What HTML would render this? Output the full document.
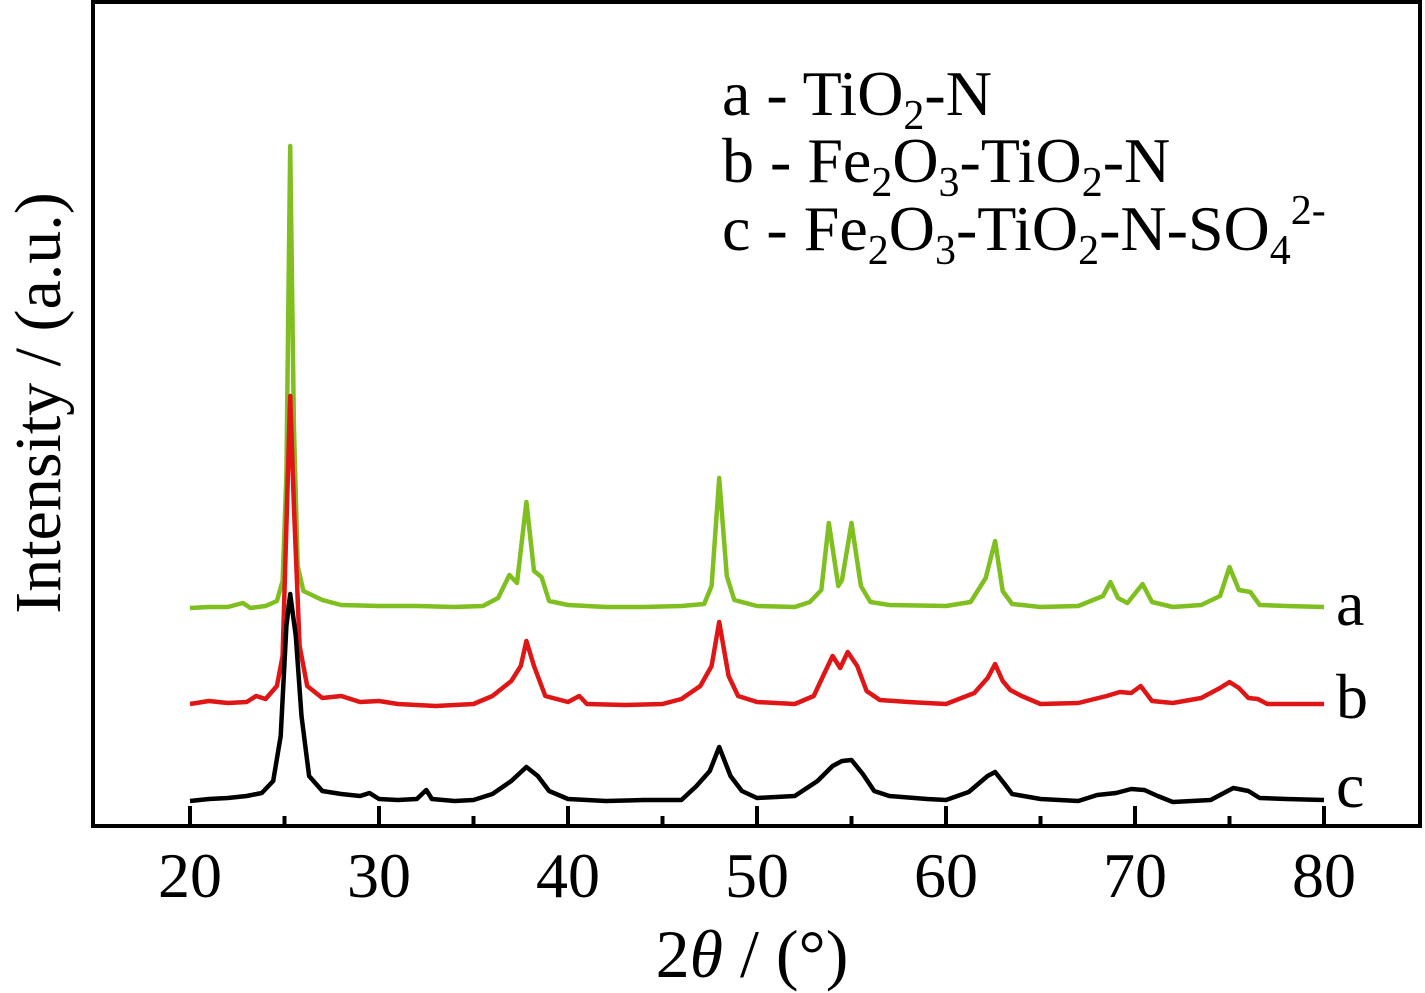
<!DOCTYPE html>
<html><head><meta charset="utf-8"><style>
html,body{margin:0;padding:0;background:#fff;}
svg{display:block;font-family:"Liberation Serif",serif;}
</style></head><body>
<svg id="chart" width="1425" height="993" viewBox="0 0 1425 993">
<rect x="93" y="2" width="1327" height="824" fill="none" stroke="#000" stroke-width="4"/>
<g id="ticks"></g>
<g id="series"></g>
<text x="752" y="977" font-size="68" text-anchor="middle">2<tspan font-style="italic">θ</tspan> / (°)</text>
<text transform="translate(60,403) rotate(-90)" font-size="66" text-anchor="middle">Intensity / (a.u.)</text>
<g font-size="64">
<text x="722" y="115">a - TiO<tspan font-size="42" dy="14">2</tspan><tspan dy="-14">-N</tspan></text>
<text x="722" y="182">b - Fe<tspan font-size="42" dy="14">2</tspan><tspan dy="-14">O</tspan><tspan font-size="42" dy="14">3</tspan><tspan dy="-14">-TiO</tspan><tspan font-size="42" dy="14">2</tspan><tspan dy="-14">-N</tspan></text>
<text x="722" y="250">c - Fe<tspan font-size="42" dy="14">2</tspan><tspan dy="-14">O</tspan><tspan font-size="42" dy="14">3</tspan><tspan dy="-14">-TiO</tspan><tspan font-size="42" dy="14">2</tspan><tspan dy="-14">-N-SO</tspan><tspan font-size="42" dy="14">4</tspan><tspan font-size="42" dy="-40">2-</tspan></text>
</g>
<g font-size="64">
<text x="1336" y="625">a</text>
<text x="1336" y="718">b</text>
<text x="1336" y="807">c</text>
</g>
</svg>
<script>
const tickValues=[20,30,40,50,60,70,80];
const minorTicks=[25,35,45,55,65,75];
const aX=[20,21,22,22.8,23.2,24,24.6,24.9,25.1,25.3,25.5,25.7,26,27,28,30,32,34,35.5,36.3,36.9,37.3,37.8,38.2,38.6,39,40,42,44,46,47.2,47.6,48.0,48.4,48.8,50,52,52.8,53.4,53.8,54.3,54.5,55.0,55.5,56,57,60,61.3,62.1,62.6,63,63.5,65,67,68.3,68.7,69.1,69.6,70.4,70.9,72,73.5,74.5,75.0,75.5,76.1,76.6,78,80];
const aY=[218,219,219,223,218,220,225,245,350,680,400,260,235,226,221,220,220,219,220,228,251,243,324,255,249,225,221,219,219,220,222,240,348,250,226,220,219,224,236,303,240,246,303,240,224,221,220,224,248,285,235,222,219,220,230,244,228,223,242,224,219,221,230,259,236,234,221,220,219];
const bX=[20,21,22,23,23.5,24,24.6,24.9,25.1,25.3,25.5,25.8,26.2,27,28,29,30,31,33,35,36,37,37.5,37.8,38.2,38.8,40,40.6,41,43,45,46,47,47.6,48.0,48.5,49,50,52,53,53.5,54.0,54.4,54.8,55.3,55.8,56.5,58,60,61.5,62.2,62.6,63.0,63.4,64,65,67,68.5,69.2,69.8,70.3,70.9,72,73.5,74.5,75.0,75.5,76,76.5,77,80];
const bY=[122,125,123,124,130,127,140,170,300,430,320,180,140,128,130,124,125,122,120,122,130,145,160,185,160,130,124,130,122,121,122,127,140,160,204,150,130,124,122,130,150,170,158,174,160,135,126,124,122,133,148,162,145,136,130,122,123,130,134,133,140,125,123,128,138,144,138,128,127,122,122];
const cX=[20,21,22,23,23.8,24.4,24.8,25.1,25.3,25.6,25.9,26.3,27,28,29,29.5,30,31,32,32.5,32.8,34,35,36,37,37.8,38.4,39,40,42,44,46,46.8,47.5,48.0,48.6,49.2,50,52,53.2,54,54.5,55,55.6,56.2,57,59,60,61.2,62.2,62.6,63.1,63.5,65,67,68,69,69.8,70.5,71.2,72,74,75.2,76,76.6,78,80];
const cY=[25,27,28,30,33,45,90,200,232,190,110,50,35,32,30,33,27,26,27,36,27,25,26,32,45,59,50,35,27,25,26,26,40,55,79,50,35,28,30,45,60,65,66,52,35,30,27,26,34,50,54,42,32,27,25,31,33,37,36,30,24,26,38,35,28,27,26];
const NS="http://www.w3.org/2000/svg";
const xS=v=>190+(v-20)*18.9;
const yS=v=>826-v;
const tg=document.getElementById('ticks');
tickValues.forEach(t=>{
  const l=document.createElementNS(NS,'line');
  l.setAttribute('x1',xS(t));l.setAttribute('x2',xS(t));l.setAttribute('y1',806);l.setAttribute('y2',826);
  l.setAttribute('stroke','#000');l.setAttribute('stroke-width','4');
  
  
  tg.appendChild(l);
  const tx=document.createElementNS(NS,'text');
  tx.setAttribute('x',xS(t));tx.setAttribute('y',897);tx.setAttribute('font-size','64');tx.setAttribute('text-anchor','middle');
  tx.textContent=t;
  
  
  tg.appendChild(tx);
});
minorTicks.forEach(t=>{
  const l=document.createElementNS(NS,'line');
  l.setAttribute('x1',xS(t));l.setAttribute('x2',xS(t));l.setAttribute('y1',816);l.setAttribute('y2',826);
  l.setAttribute('stroke','#000');l.setAttribute('stroke-width','4');
  
  
  tg.appendChild(l);
});
const sg=document.getElementById('series');
[[aX,aY,'#7fbf1f','series-a-tio2-n'],[bX,bY,'#e01515','series-b-fe2o3-tio2-n'],[cX,cY,'#000','series-c-fe2o3-tio2-n-so4']].forEach(s=>{
  const p=document.createElementNS(NS,'polyline');
  p.setAttribute('points',s[0].map((x,i)=>xS(x).toFixed(1)+','+yS(s[1][i]).toFixed(1)).join(' '));
  p.setAttribute('fill','none');p.setAttribute('stroke',s[2]);p.setAttribute('stroke-width','4.5');p.setAttribute('stroke-linejoin','round');
  
  
  sg.appendChild(p);
});
</script>
</body></html>
